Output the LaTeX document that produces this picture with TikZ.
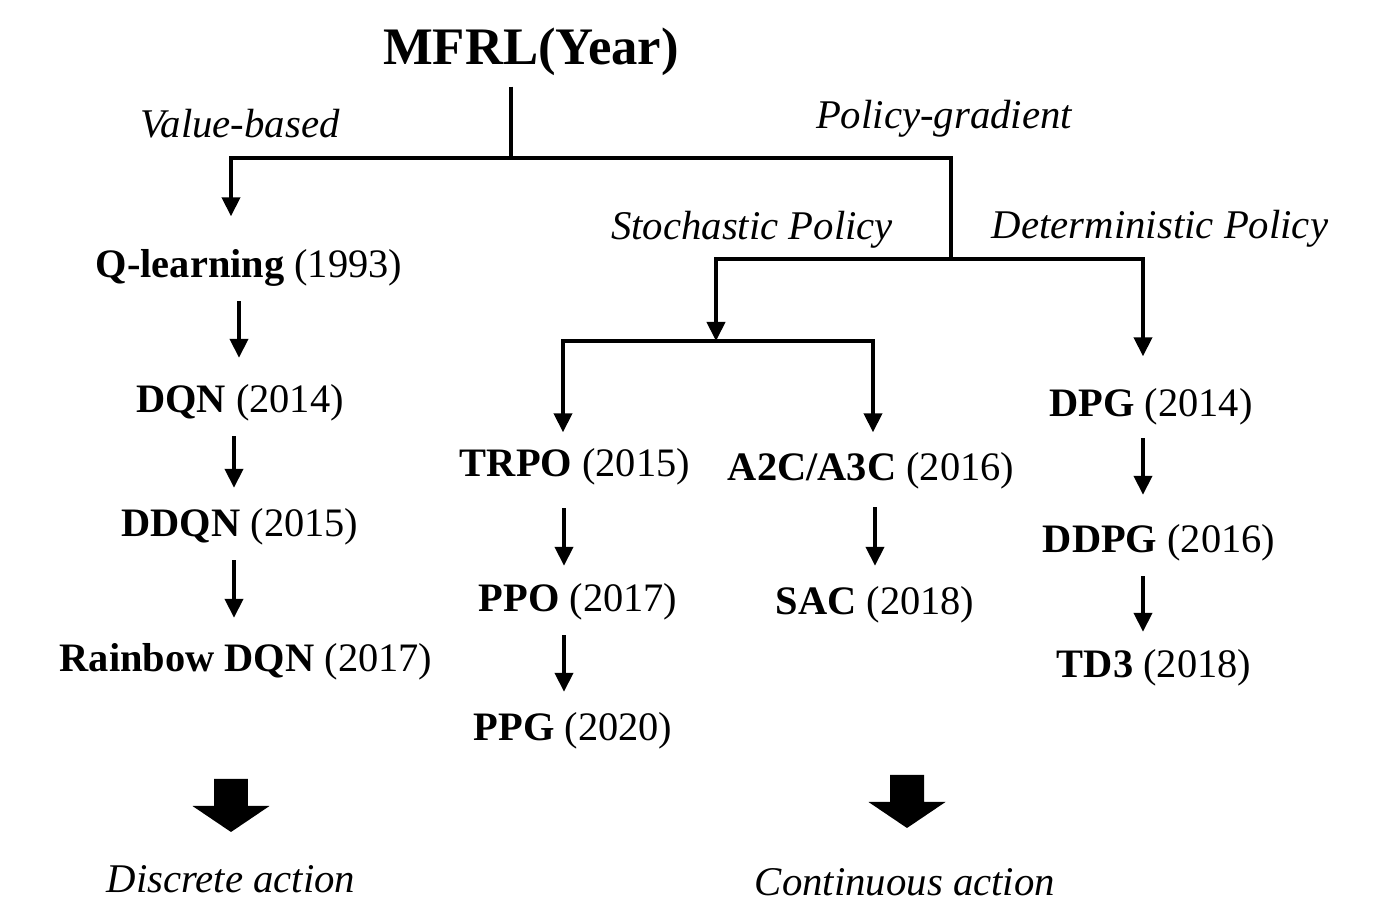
\documentclass[tikz,border=0pt]{standalone}
\usepackage{fontspec}
\setmainfont{Liberation Serif}
\usetikzlibrary{arrows.meta,positioning,calc}
\tikzset{
  algo/.style={inner sep=0pt,text height=0.28cm,text depth=0.09cm,
    font=\fontsize{11.5}{14}\selectfont},
  branchlabel/.style={inner sep=0pt,font=\fontsize{11.6}{14}\selectfont\itshape},
  branch/.style={line width=1.15pt,line join=miter},
  tip/.style={branch,-{Triangle[length=0.19cm,width=0.18cm]}},
  bothtips/.style={branch,{Triangle[length=0.19cm,width=0.18cm]}-{Triangle[length=0.19cm,width=0.18cm]}},
  steparrow/.style={tip,shorten <=0.14cm,shorten >=0.2cm},
  bigarrow/.pic={
    \fill (-0.17,0) -- (0.17,0) -- (0.17,-0.27) -- (0.385,-0.27)
      -- (0,-0.53) -- (-0.385,-0.27) -- (-0.17,-0.27) -- cycle;
  }
}

\begin{document}
\begin{tikzpicture}
  \useasboundingbox (0,0) rectangle (13.87,9);

    \node[inner sep=0pt,font=\fontsize{15}{18}\selectfont\bfseries] (mfrl) at (5.31,8.48) {MFRL(Year)};

    \node[branchlabel] (valuebased) at (2.40,7.76) {Value-based};
    \node[branchlabel] (policygrad) at (9.44,7.81) {Policy-gradient};
    \node[branchlabel] (stochastic) at (7.52,6.70) {Stochastic Policy};
    \node[branchlabel] (deterministic) at (11.60,6.71) {Deterministic Policy};

    \node[algo] (q) at (2.49,6.32) {\textbf{Q-learning} (1993)};
    \node[algo] (dqn) at (2.40,4.97) {\textbf{DQN} (2014)};
    \node[algo] (ddqn) at (2.40,3.73) {\textbf{DDQN} (2015)};
    \node[algo] (rainbow) at (2.46,2.38) {\textbf{Rainbow DQN} (2017)};

    \node[algo] (trpo) at (5.75,4.33) {\textbf{TRPO} (2015)};
    \node[algo] (ppo) at (5.78,2.98) {\textbf{PPO} (2017)};
    \node[algo] (ppg) at (5.73,1.69) {\textbf{PPG} (2020)};

    \node[algo] (a2c) at (8.71,4.29) {\textbf{A2C/A3C} (2016)};
    \node[algo] (sac) at (8.75,2.95) {\textbf{SAC} (2018)};

    \node[algo] (dpg) at (11.51,4.93) {\textbf{DPG} (2014)};
    \node[algo] (ddpg) at (11.59,3.57) {\textbf{DDPG} (2016)};
    \node[algo] (td3) at (11.54,2.32) {\textbf{TD3} (2018)};

    \node[branchlabel] (discrete) at (2.31,0.21) {Discrete action};
    \node[branchlabel] (continuous) at (9.05,0.18) {Continuous action};

    % tree junctions
    \coordinate (stem) at (5.11,7.42);
    \coordinate (vbc) at (2.31,7.42);
    \coordinate (pgc) at (9.51,7.42);
    \coordinate (pgj) at (9.51,6.41);
    \coordinate (spc) at (7.16,6.41);
    \coordinate (dpc) at (11.43,6.41);
    \coordinate (spj) at (7.16,5.59);
    \coordinate (trc) at (5.63,5.59);
    \coordinate (acc) at (8.73,5.59);

    \draw[branch,shorten <=0.1cm] (mfrl.south -| stem) -- (stem);
    \draw[tip,shorten >=0.325cm] (pgj) -- (pgc) -- (vbc) -- (q.north -| vbc);
    \draw[bothtips,shorten >=0.315cm] (spj) -- (spc) -- (dpc) -- (dpg.north -| dpc);
    \draw[bothtips,shorten <=0.155cm,shorten >=0.195cm] (trpo.north -| trc) -- (trc) -- (acc) -- (a2c.north -| acc);

    % chains
    \coordinate (colq) at (2.39,0);
    \coordinate (colv) at (2.34,0);
    \coordinate (colt) at (5.64,0);
    \coordinate (cola) at (8.75,0);
    \coordinate (cold) at (11.43,0);

    \draw[steparrow,shorten >=0.26cm] (q.south -| colq) -- (dqn.north -| colq);
    \draw[steparrow] (dqn.south -| colv) -- (ddqn.north -| colv);
    \draw[steparrow,shorten >=0.25cm] (ddqn.south -| colv) -- (rainbow.north -| colv);
    \draw[steparrow,shorten <=0.22cm,shorten >=0.17cm] (trpo.south -| colt) -- (ppo.north -| colt);
    \draw[steparrow] (ppo.south -| colt) -- (ppg.north -| colt);
    \draw[steparrow,shorten <=0.17cm] (a2c.south -| cola) -- (sac.north -| cola);
    \draw[steparrow,shorten <=0.12cm,shorten >=0.29cm] (dpg.south -| cold) -- (ddpg.north -| cold);
    \draw[steparrow,shorten >=0.17cm] (ddpg.south -| cold) -- (td3.north -| cold);

    \pic at (2.31,1.21) {bigarrow};
    \pic at (9.07,1.25) {bigarrow};
\end{tikzpicture}
\end{document}
